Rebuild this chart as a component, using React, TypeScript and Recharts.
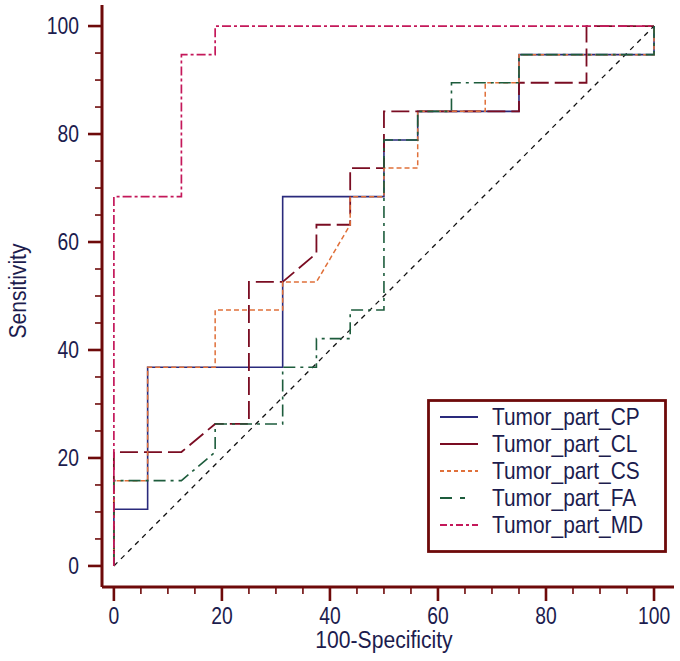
import React from 'react';
import { LineChart, Line, XAxis, YAxis, Legend } from 'recharts';

// ---- data ----
const X_TICKS = [0, 5, 10, 15, 20, 25, 30, 35, 40, 45, 50, 55, 60, 65, 70, 75, 80, 85, 90, 95, 100];
const Y_TICKS = [0, 5, 10, 15, 20, 25, 30, 35, 40, 45, 50, 55, 60, 65, 70, 75, 80, 85, 90, 95, 100];
const MAJOR_TICKS = [0, 20, 40, 60, 80, 100];

const CP_POINTS: [number, number][] = [
  [0, 0], [0, 10.5], [6.25, 10.5], [6.25, 36.8], [31.25, 36.8], [31.25, 68.4], [50, 68.4],
  [50, 78.9], [56.25, 78.9], [56.25, 84.2], [75, 84.2], [75, 94.7], [100, 94.7], [100, 100],
];
const CL_POINTS: [number, number][] = [
  [0, 0], [0, 21.1], [12.5, 21.1], [18.75, 26.3], [25, 26.3], [25, 52.6], [31.25, 52.6],
  [37.5, 57.9], [37.5, 63.2], [43.75, 63.2], [43.75, 73.7], [50, 73.7], [50, 84.2], [75, 84.2],
  [75, 89.5], [87.5, 89.5], [87.5, 100], [100, 100],
];
const CS_POINTS: [number, number][] = [
  [0, 0], [0, 15.8], [6.25, 15.8], [6.25, 36.8], [18.75, 36.8], [18.75, 47.4], [31.25, 47.4],
  [31.25, 52.6], [37.5, 52.6], [43.75, 63.2], [43.75, 68.4], [50, 68.4], [50, 73.7], [56.25, 73.7],
  [56.25, 84.2], [68.75, 84.2], [68.75, 89.5], [75, 89.5], [75, 94.7], [100, 94.7], [100, 100],
];
const FA_POINTS: [number, number][] = [
  [0, 0], [0, 15.8], [12.5, 15.8], [18.75, 21.1], [18.75, 26.3], [31.25, 26.3], [31.25, 36.8],
  [37.5, 36.8], [37.5, 42.1], [43.75, 42.1], [43.75, 47.4], [50, 47.4], [50, 68.4], [50, 78.9],
  [56.25, 78.9], [56.25, 84.2], [62.5, 84.2], [62.5, 89.5], [75, 89.5], [75, 94.7], [100, 94.7], [100, 100],
];
const MD_POINTS: [number, number][] = [
  [0, 0], [0, 68.4], [12.5, 68.4], [12.5, 94.7], [18.75, 94.7], [18.75, 100], [100, 100],
];
const DIAG_POINTS: [number, number][] = [[0, 0], [100, 100]];

const SERIES_NAMES = ['Tumor_part_CP', 'Tumor_part_CL', 'Tumor_part_CS', 'Tumor_part_FA', 'Tumor_part_MD'];

// ---- styles ----
const AXIS = '#6e0a0a';
const TEXT = '#1c1c4e';
const FONT = '"Liberation Sans", Arial, sans-serif';

const toObj = (pts: [number, number][]) => pts.map(([x, y]) => ({ x, y }));

const SERIES = [
  { name: SERIES_NAMES[0], data: toObj(CP_POINTS), color: '#2a2a7c', dash: undefined as string | undefined, width: 1.6, legendDash: undefined as string | undefined },
  { name: SERIES_NAMES[1], data: toObj(CL_POINTS), color: '#7a0c22', dash: '18 6', width: 1.8, legendDash: undefined },
  { name: SERIES_NAMES[2], data: toObj(CS_POINTS), color: '#e0703a', dash: '5 3', width: 1.5, legendDash: '4 3' },
  { name: SERIES_NAMES[3], data: toObj(FA_POINTS), color: '#1d5c3c', dash: '12 5 3 5', width: 1.6, legendDash: '12 8 5 20' },
  { name: SERIES_NAMES[4], data: toObj(MD_POINTS), color: '#c4185a', dash: '9 3 3 3', width: 1.7, legendDash: '7 3 3 3' },
];

// condensed text helper (the reference uses a narrow sans face)
const NarrowText = ({ x, y, size, k, anchor, baseline, rotate, children }: any) => (
  <text
    transform={`translate(${x}, ${y})${rotate ? ` rotate(${rotate})` : ''} scale(${k}, 1)`}
    textAnchor={anchor || 'start'}
    dominantBaseline={baseline || 'auto'}
    fontSize={size}
    fontFamily={FONT}
    fill={TEXT}
  >
    {children}
  </text>
);

const XTick = (props: any) => {
  const { x, y, payload } = props;
  const major = MAJOR_TICKS.includes(payload.value);
  return (
    <g>
      <line x1={x} x2={x} y1={y} y2={y + (major ? 14 : 7)} stroke={AXIS} strokeWidth={major ? 2.6 : 1.6} />
      {major && (
        <NarrowText x={x} y={y + 29} size={23} k={0.84} anchor="middle" baseline="central">
          {payload.value}
        </NarrowText>
      )}
    </g>
  );
};

const YTick = (props: any) => {
  const { x, y, payload } = props;
  const major = MAJOR_TICKS.includes(payload.value);
  return (
    <g>
      <line x1={x - (major ? 14 : 7)} x2={x} y1={y} y2={y} stroke={AXIS} strokeWidth={major ? 2.6 : 1.6} />
      {major && (
        <NarrowText x={x - 23} y={y} size={23} k={0.84} anchor="end" baseline="central">
          {payload.value}
        </NarrowText>
      )}
    </g>
  );
};

const XTitle = (props: any) => {
  const vb = props.viewBox || { x: 102, y: 587, width: 572, height: 74 };
  return (
    <NarrowText x={vb.x + vb.width / 2 - 4} y={vb.y + 61} size={24} k={0.88} anchor="middle">
      100-Specificity
    </NarrowText>
  );
};

const YTitle = (props: any) => {
  const vb = props.viewBox || { x: 0, y: 5, width: 102, height: 582 };
  const cy = vb.y + vb.height / 2 - 5;
  return (
    <text
      transform={`translate(${vb.x + 26}, ${cy}) rotate(-90) scale(0.88, 1)`}
      textAnchor="middle"
      fontSize={24}
      fontFamily={FONT}
      fill={TEXT}
    >
      Sensitivity
    </text>
  );
};

const LegendBox = () => (
  <svg width={240} height={154} style={{ display: 'block' }}>
    <rect x={1.5} y={1.5} width={237} height={151} fill="#ffffff" stroke={AXIS} strokeWidth={2.8} />
    {SERIES.map((s, i) => {
      const cy = 18 + i * 27;
      return (
        <g key={s.name}>
          <line x1={13} x2={51} y1={cy} y2={cy} stroke={s.color} strokeWidth={1.8} strokeDasharray={s.legendDash} />
          <NarrowText x={65} y={cy} size={24} k={0.87} baseline="central">
            {s.name}
          </NarrowText>
        </g>
      );
    })}
  </svg>
);

export default function App() {
  return (
    <div style={{ position: 'absolute', left: 0, top: 0, background: '#fff' }}>
      <LineChart width={680} height={661} margin={{ top: 5, right: 6, bottom: 0, left: 0 }}>
        <XAxis
          type="number"
          dataKey="x"
          domain={[-2.2, 103.7]}
          ticks={X_TICKS}
          interval={0}
          allowDataOverflow
          tickLine={false}
          tickSize={0}
          tickMargin={0}
          tick={<XTick />}
          axisLine={{ stroke: AXIS, strokeWidth: 3 }}
          height={74}
          label={{ content: XTitle } as any}
        />
        <YAxis
          type="number"
          dataKey="y"
          domain={[-3.9, 103.9]}
          ticks={Y_TICKS}
          interval={0}
          allowDataOverflow
          tickLine={false}
          tickSize={0}
          tickMargin={0}
          tick={<YTick />}
          axisLine={{ stroke: AXIS, strokeWidth: 3 }}
          width={102}
          label={{ content: YTitle } as any}
        />
        <Line
          data={toObj(DIAG_POINTS)}
          dataKey="y"
          type="linear"
          stroke="#111111"
          strokeWidth={1.3}
          strokeDasharray="5 5"
          dot={false}
          activeDot={false}
          isAnimationActive={false}
          legendType="none"
        />
        {SERIES.map((s) => (
          <Line
            key={s.name}
            name={s.name}
            data={s.data}
            dataKey="y"
            type="linear"
            stroke={s.color}
            strokeWidth={s.width}
            strokeDasharray={s.dash}
            dot={false}
            activeDot={false}
            isAnimationActive={false}
          />
        ))}
        <Legend
          layout="vertical"
          align="center"
          verticalAlign="middle"
          content={() => <LegendBox />}
          wrapperStyle={{ position: 'absolute', left: 427, top: 399, width: 240, height: 154 }}
        />
      </LineChart>
    </div>
  );
}
